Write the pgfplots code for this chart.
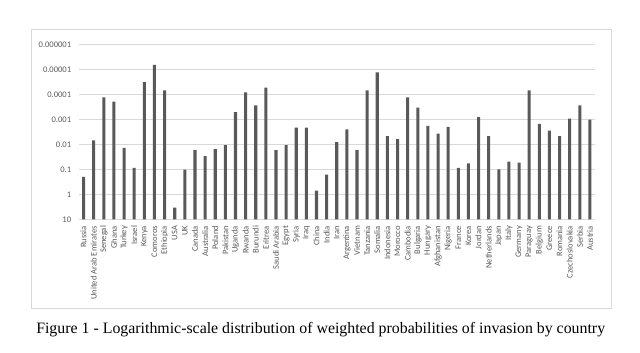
\documentclass[border=0pt]{standalone}
\usepackage{pgfplots}
\usepackage{pgfplotstable}
\pgfplotsset{compat=1.18}
\usepackage{fontspec}
\setmainfont{Liberation Serif}
\newfontfamily\carlito{Carlito}
\definecolor{gridc}{HTML}{D9D9D9}
\definecolor{barc}{HTML}{595959}
\definecolor{tickc}{HTML}{595959}

\pgfplotstableread[col sep=comma]{
name,p
Russia,0.2
United Arab Emirates,0.0069
Senegal,0.00013
Ghana,0.00019
Turkey,0.0136
Israel,0.086
Kenya,0.000032
Comoros,0.0000065
Ethiopia,0.000067
USA,3.4
UK,0.103
Canada,0.0169
Australia,0.029
Poland,0.0154
Pakistan,0.0106
Uganda,0.00051
Rwanda,0.000081
Burundi,0.00027
Eritrea,0.000052
Saudi Arabia,0.0169
Egypt,0.0106
Syria,0.0021
Iraq,0.0021
China,0.71
India,0.163
Iran,0.0081
Argentina,0.0025
Vietnam,0.0169
Tanzania,0.000067
Somalia,0.000013
Indonesia,0.0046
Morocco,0.0061
Cambodia,0.00013
Bulgaria,0.00033
Hungary,0.0018
Afghanistan,0.0037
Nigeria,0.00196
France,0.086
Korea,0.0575
Jordan,0.00081
Netherlands,0.0046
Japan,0.1
Italy,0.049
Germany,0.054
Paraguay,0.000067
Belgium,0.0015
Greece,0.0028
Romania,0.0046
Czechoslovakia,0.00091
Serbia,0.00027
Austria,0.001
}\data

\begin{document}
\begin{tikzpicture}
\path[use as bounding box] (0,0) rectangle (480pt,264.75pt);
\draw[gridc, line width=0.75pt] (23.8pt,33pt) rectangle (458.8pt,242.8pt);
\begin{axis}[
  at={(58.875pt,100.275pt)}, anchor=south west,
  scale only axis, width=387.4pt, height=130.95pt,
  xmin=-0.5, xmax=50.5, ymin=0, ymax=7,
  ytick={0,1,2,3,4,5,6,7},
  yticklabels={10,1,0.1,0.01,0.001,0.0001,0.00001,0.000001},
  xtick=data,
  xticklabels from table={\data}{name},
  ymajorgrids,
  grid style={gridc, line width=0.7pt},
  axis line style={draw=none},
  major tick length=0pt,
  yticklabel shift=2pt,
  xticklabel shift=1.5pt,
  yticklabel style={font=\carlito\fontsize{6.4}{7}\selectfont, text=tickc},
  xticklabel style={rotate=90, anchor=east, font=\carlito\fontsize{6.4}{7}\selectfont, text=tickc},
  /pgf/number format/assume math mode=true,
  clip=false,
]
\addplot[ybar, bar width=2.3pt, fill=barc, draw=none]
  table[x expr=\coordindex, y expr={1-ln(\thisrow{p})/ln(10)}] {\data};
\end{axis}
\node[anchor=base west, inner sep=0pt] at (27pt,14.25pt)
  {\fontsize{11.9}{14}\selectfont Figure 1 - Logarithmic-scale distribution of weighted probabilities of invasion by country};
\end{tikzpicture}
\end{document}
